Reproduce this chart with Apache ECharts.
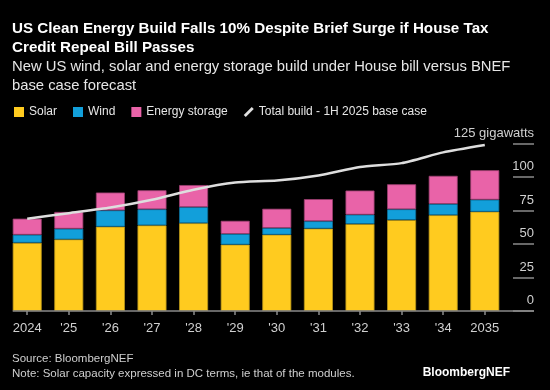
<!DOCTYPE html>
<html><head><meta charset="utf-8">
<script src="https://cdn.jsdelivr.net/npm/echarts@6/dist/echarts.min.js"></script>
<style>html,body{margin:0;padding:0;background:#000;}#c{width:550px;height:390px;}</style>
</head><body><div id="c"></div>
<script>
const categories = ['2024', "'25", "'26", "'27", "'28", "'29", "'30", "'31", "'32", "'33", "'34", '2035'];
const solar   = [51, 53.5, 63, 64, 65.6, 49.6, 57, 61.6, 65, 68, 71.6, 74.2];
const wind    = [6, 8, 12.2, 12, 12, 8, 5, 5.5, 7, 8, 8.4, 9];
const storage = [12, 12.5, 13.3, 14.2, 16.5, 9.8, 14.4, 16.5, 18, 18.7, 21, 22];
const baseCase = [68.9, 73.1, 77.3, 83.1, 90.6, 96.0, 97.5, 101.3, 107.6, 110.5, 118.5, 124.0];
const yTicks = [0, 25, 50, 75, 100, 125];

const FONT = '"Liberation Sans", Arial, sans-serif';
const chart = echarts.init(document.getElementById('c'), null, {renderer: 'canvas'});
const option = {
  backgroundColor: '#000',
  animation: false,
  textStyle: {fontFamily: FONT},
  title: [
    {text: 'US Clean Energy Build Falls 10% Despite Brief Surge if House Tax\nCredit Repeal Bill Passes',
     left: 12, top: 19, padding: 0,
     textStyle: {color: '#fff', fontSize: 15.2, fontWeight: 'bold', lineHeight: 19, fontFamily: FONT}},
    {text: 'New US wind, solar and energy storage build under House bill versus BNEF\nbase case forecast',
     left: 12, top: 57, padding: 0,
     textStyle: {color: '#e6e6e6', fontSize: 14.8, fontWeight: 'normal', lineHeight: 19, fontFamily: FONT}},
    {text: 'Source: BloombergNEF\nNote: Solar capacity expressed in DC terms, ie that of the modules.',
     left: 12, top: 351, padding: 0,
     textStyle: {color: '#cfcfcf', fontSize: 11.5, fontWeight: 'normal', lineHeight: 15, fontFamily: FONT}},
    {text: 'BloombergNEF', right: 40, top: 367, padding: 0,
     textStyle: {color: '#fff', fontSize: 12, fontWeight: 'bold', fontFamily: FONT}}
  ],
  legend: {
    left: 14, top: 106, padding: 0, itemWidth: 10, itemHeight: 10, itemGap: 16,
    itemStyle: {borderWidth: 0},
    textStyle: {color: '#e6e6e6', fontSize: 12, fontFamily: FONT, padding: [0,0,0,0]},
    data: [
      {name: 'Solar', icon: 'rect'},
      {name: 'Wind', icon: 'rect'},
      {name: 'Energy storage', icon: 'rect'},
      {name: 'Total build - 1H 2025 base case', icon: 'path://M0,9 L8,1 L10,3 L2,11 Z', itemStyle: {color: '#e0e0e0', borderWidth: 0}}
    ]
  },
  grid: {left: 6.4, right: 44.4, top: 143.7, bottom: 79},
  xAxis: {
    type: 'category', data: categories,
    axisLine: {show: false},
    axisTick: {show: true, alignWithLabel: true, length: 4, lineStyle: {color: '#8a8a8a', width: 1.5}},
    axisLabel: {color: '#d0d0d0', fontSize: 13, margin: 11, fontFamily: FONT}
  },
  yAxis: {
    type: 'value', position: 'right', min: 0, max: 125, interval: 25, offset: 7.4,
    splitLine: {show: false},
    axisLine: {show: false},
    axisTick: {show: true, length: 21, lineStyle: {color: '#8a8a8a', width: 1.5}},
    axisLabel: {
      color: '#d0d0d0', fontSize: 13, margin: 21, align: 'right', verticalAlign: 'bottom',
      padding: [0, 0, 4, 0], fontFamily: FONT,
      customValues: yTicks,
      formatter: v => v === 125 ? '125 gigawatts' : String(v)
    }
  },
  series: [
    {name: 'Solar', type: 'bar', stack: 'b', data: solar, barWidth: 29,
     itemStyle: {color: '#FFCB1F', borderColor: '#b89418', borderWidth: 0.8}},
    {name: 'Wind', type: 'bar', stack: 'b', data: wind, barWidth: 29,
     itemStyle: {color: '#129FDA', borderColor: '#0d6f99', borderWidth: 0.8}},
    {name: 'Energy storage', type: 'bar', stack: 'b', data: storage, barWidth: 29,
     itemStyle: {color: '#E963A8', borderColor: '#9c3f70', borderWidth: 0.8}},
    {name: 'Total build - 1H 2025 base case', type: 'line', data: baseCase, smooth: 0.2,
     symbol: 'none', z: 5,
     lineStyle: {color: '#dedede', width: 2.5}, itemStyle: {color: '#dedede'}}
  ]
};
chart.setOption(option);
const y0 = chart.convertToPixel({yAxisIndex: 0}, 0);
const xFirst = chart.convertToPixel({xAxisIndex: 0}, categories[0]) - 14.5;
chart.setOption({graphic: [{type: 'line', shape: {x1: xFirst, y1: y0, x2: 534, y2: y0},
  style: {stroke: '#8a8a8a', lineWidth: 1.5}, z: 10}]});
</script></body></html>
